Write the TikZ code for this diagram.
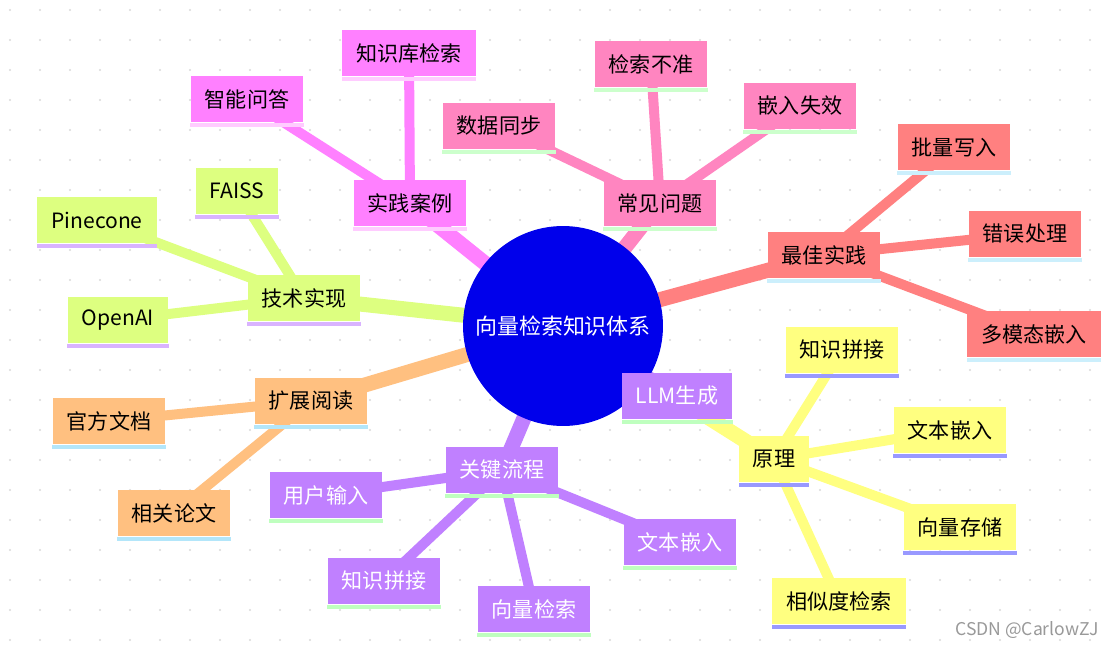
\documentclass[tikz,border=0pt]{standalone}
\usepackage{fontspec}
\setmainfont{Noto Sans CJK SC}
\usetikzlibrary{backgrounds}
\begin{document}
\begin{tikzpicture}[x=0.02cm,y=-0.02cm,
    box/.style={rectangle, inner xsep=8pt, minimum height=0.94cm, font=\fontsize{12}{14}\selectfont},
    main/.style={line width=0.3cm},
    twig/.style={line width=0.2cm}]
    % Define colors
    \definecolor{casepink}{RGB}{255,128,255}
    \definecolor{issuepink}{RGB}{255,133,192}
    \definecolor{bestred}{RGB}{255,128,128}
    \definecolor{techgreen}{RGB}{221,255,128}
    \definecolor{readorange}{RGB}{255,192,128}
    \definecolor{flowpurple}{RGB}{192,128,255}
    \definecolor{ruleyellow}{RGB}{255,255,128}
    \definecolor{hubblue}{RGB}{0,0,235}

    % Hub
    \node[circle, fill=hubblue, minimum size=4cm, text=white, font=\fontsize{12.5}{14}\selectfont] (core) at (563,326) {向量检索知识体系};

    % Nodes: name/x/y/fill/under/text colour/label
    \foreach \n/\x/\y/\f/\u/\t/\l in {
        cases/410/203/casepink/casepink!40/black/实践案例,
        kbsearch/409/53/casepink/casepink!40/black/知识库检索,
        qa/247/99/casepink/casepink!40/black/智能问答,
        issues/660/203/issuepink/green!20/black/常见问题,
        inacc/651/64/issuepink/green!20/black/检索不准,
        sync/499/126/issuepink/green!20/black/数据同步,
        embfail/800/106/issuepink/green!20/black/嵌入失效,
        best/824/255/bestred/cyan!20/black/最佳实践,
        batch/954/147/bestred/cyan!20/black/批量写入,
        errors/1025/234/bestred/cyan!20/black/错误处理,
        multi/1034/334/bestred/cyan!20/black/多模态嵌入,
        tech/304/298/techgreen/flowpurple!60/black/技术实现,
        faiss/237/191/techgreen/flowpurple!60/black/FAISS,
        pinecone/97/220/techgreen/flowpurple!60/black/Pinecone,
        openai/118/320/techgreen/flowpurple!60/black/OpenAI,
        reading/311/401/readorange/cyan!30/black/扩展阅读,
        docs/109/421/readorange/cyan!30/black/官方文档,
        papers/174/513/readorange/cyan!30/black/相关论文,
        flow/502/470/flowpurple/green!25/white/关键流程,
        llm/677/396/flowpurple/green!25/white/LLM生成,
        input/326/495/flowpurple/green!25/white/用户输入,
        concat/384/581/flowpurple/green!25/white/知识拼接,
        vsearch/534/609/flowpurple/green!25/white/向量检索,
        embed/680/542/flowpurple/green!25/white/文本嵌入,
        principle/774/459/ruleyellow/blue!40/black/原理,
        pconcat/842/350/ruleyellow/blue!40/black/知识拼接,
        pembed/950/430/ruleyellow/blue!40/black/文本嵌入,
        pstore/960/527/ruleyellow/blue!40/black/向量存储,
        psim/839/601/ruleyellow/blue!40/black/相似度检索}
    {
      \node[box, fill=\f, text=\t] (\n) at (\x,\y) {\l};
      \fill[\u] (\n.south west) rectangle ([yshift=-2.5pt]\n.south east);
    }

    \begin{scope}[on background layer]
      % Background and dots
      \fill[white] (0,0) rectangle (1110,649);
      \foreach \x in {10,40,...,1100}
        \foreach \y in {10,40,...,640}
          \fill[black!15] (\x,\y) circle (0.6pt);
      % Branch lines
      \foreach \b/\c in {cases/casepink, issues/issuepink, best/bestred, tech/techgreen,
          reading/readorange, flow/flowpurple, llm/flowpurple, principle/ruleyellow}
        \draw[main,\c] (core.center) -- (\b.center);
      % Leaf lines
      \foreach \a/\b/\c in {cases/kbsearch/casepink, cases/qa/casepink,
          issues/inacc/issuepink, issues/sync/issuepink, issues/embfail/issuepink,
          best/batch/bestred, best/errors/bestred, best/multi/bestred,
          tech/faiss/techgreen, tech/pinecone/techgreen, tech/openai/techgreen,
          reading/docs/readorange, reading/papers/readorange,
          flow/input/flowpurple, flow/concat/flowpurple, flow/vsearch/flowpurple, flow/embed/flowpurple,
          principle/pconcat/ruleyellow, principle/pembed/ruleyellow, principle/pstore/ruleyellow, principle/psim/ruleyellow}
        \draw[twig,\c] (\a.center) -- (\b.center);
    \end{scope}

    % Watermark
    \node[text=black!40, font=\fontsize{10}{12}\selectfont, anchor=east] (mark) at (1105,630) {CSDN @CarlowZJ};
\end{tikzpicture}
\end{document}
